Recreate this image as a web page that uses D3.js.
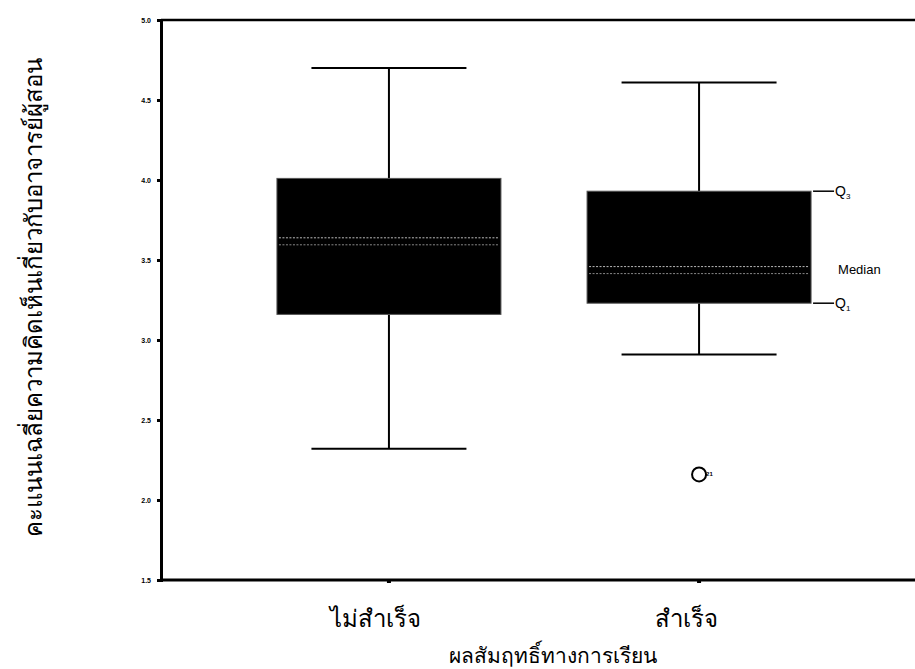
<!DOCTYPE html>
<html>
<head>
<meta charset="utf-8">
<script src="https://cdn.jsdelivr.net/npm/d3@7"></script>
<style>
  body { margin: 0; background: #fff; }
  svg { display: block; }
</style>
</head>
<body>
<div id="chart"></div>
<script>
// data
const groups = ["ไม่สำเร็จ", "สำเร็จ"];
const q1 = [3.16, 3.23];
const medians = [3.62, 3.44];
const q3 = [4.01, 3.93];
const whiskerLow = [2.32, 2.91];
const whiskerHigh = [4.70, 4.61];
const outlierGroup = ["สำเร็จ"];
const outlierValue = [2.16];
const outlierLabel = ["21"];
const yTicks = [1.5, 2.0, 2.5, 3.0, 3.5, 4.0, 4.5, 5.0];

const width = 915, height = 669;
const margin = { top: 20, left: 161, bottom: 89 };
const plotRight = 927;

const svg = d3.select("#chart").append("svg")
  .attr("width", width)
  .attr("height", height);

const x = d3.scalePoint()
  .domain(groups)
  .range([margin.left, plotRight])
  .padding(0.735);

const y = d3.scaleLinear()
  .domain([1.5, 5.0])
  .range([height - margin.bottom, margin.top]);

const boxW = 224, capW = 155;

// frame
svg.append("line")
  .attr("x1", margin.left).attr("x2", plotRight)
  .attr("y1", y(5)).attr("y2", y(5))
  .attr("stroke", "#000").attr("stroke-width", 2.5);

svg.append("line")
  .attr("x1", margin.left).attr("x2", plotRight)
  .attr("y1", y(1.5)).attr("y2", y(1.5))
  .attr("stroke", "#000").attr("stroke-width", 3);

// y axis
const yAxis = svg.append("g")
  .attr("transform", `translate(${margin.left},0)`)
  .call(d3.axisLeft(y).tickValues(yTicks).tickFormat(d3.format(".1f")).tickSize(4));
yAxis.select(".domain").attr("stroke-width", 3);
yAxis.selectAll(".tick line").attr("stroke-width", 3);
yAxis.selectAll(".tick text")
  .attr("x", -10)
  .attr("fill", "#000")
  .style("font-family", "'Liberation Sans', Arial, sans-serif")
  .style("font-size", "7px")
  .style("font-weight", "bold");

// x ticks (little dots on the axis)
svg.selectAll(".xtick")
  .data(groups)
  .join("rect")
  .attr("x", d => x(d) - 2)
  .attr("y", y(1.5))
  .attr("width", 4)
  .attr("height", 3)
  .attr("fill", "#000");

const boxes = groups.map((g, i) => ({
  g, q1: q1[i], med: medians[i], q3: q3[i], lo: whiskerLow[i], hi: whiskerHigh[i]
}));

const bg = svg.selectAll(".box")
  .data(boxes)
  .join("g")
  .attr("class", "box");

// whisker stems
bg.append("line")
  .attr("x1", d => x(d.g)).attr("x2", d => x(d.g))
  .attr("y1", d => y(d.hi)).attr("y2", d => y(d.q3))
  .attr("stroke", "#000").attr("stroke-width", 2);
bg.append("line")
  .attr("x1", d => x(d.g)).attr("x2", d => x(d.g))
  .attr("y1", d => y(d.q1)).attr("y2", d => y(d.lo))
  .attr("stroke", "#000").attr("stroke-width", 2);

// caps
bg.append("line")
  .attr("x1", d => x(d.g) - capW / 2).attr("x2", d => x(d.g) + capW / 2)
  .attr("y1", d => y(d.hi)).attr("y2", d => y(d.hi))
  .attr("stroke", "#000").attr("stroke-width", 2);
bg.append("line")
  .attr("x1", d => x(d.g) - capW / 2).attr("x2", d => x(d.g) + capW / 2)
  .attr("y1", d => y(d.lo)).attr("y2", d => y(d.lo))
  .attr("stroke", "#000").attr("stroke-width", 2);

// boxes
bg.append("rect")
  .attr("x", d => x(d.g) - boxW / 2)
  .attr("y", d => y(d.q3))
  .attr("width", boxW)
  .attr("height", d => y(d.q1) - y(d.q3))
  .attr("fill", "#000")
  .attr("stroke", "#555")
  .attr("stroke-width", 1);

// median (faint dotted streaks on the black box)
[-3, 4].forEach(off => {
  bg.append("line")
    .attr("x1", d => x(d.g) - boxW / 2 + 2).attr("x2", d => x(d.g) + boxW / 2 - 2)
    .attr("y1", d => y(d.med) + off).attr("y2", d => y(d.med) + off)
    .attr("stroke", off < 0 ? "#bbb" : "#888")
    .attr("stroke-width", 1)
    .attr("stroke-dasharray", "2,1.5");
});

// outlier
const outliers = outlierGroup.map((g, i) => ({ g, v: outlierValue[i], label: outlierLabel[i] }));
svg.selectAll(".outlier")
  .data(outliers)
  .join("circle")
  .attr("cx", d => x(d.g))
  .attr("cy", d => y(d.v))
  .attr("r", 7)
  .attr("fill", "none")
  .attr("stroke", "#000")
  .attr("stroke-width", 2);
svg.selectAll(".outlier-label")
  .data(outliers)
  .join("text")
  .attr("x", d => x(d.g) + 7)
  .attr("y", d => y(d.v) + 2)
  .style("font-family", "'Liberation Sans', Arial, sans-serif")
  .style("font-size", "6px")
  .style("font-weight", "bold")
  .text(d => d.label);

// Q3 / Median / Q1 annotation on the second box
const ref = boxes[1];
const annX = x(ref.g) + boxW / 2 + 2;
[["Q", "3", ref.q3, 5], ["Q", "1", ref.q1, 5]].forEach(([t, sub, v, dy]) => {
  svg.append("line")
    .attr("x1", annX).attr("x2", annX + 21)
    .attr("y1", y(v)).attr("y2", y(v))
    .attr("stroke", "#000").attr("stroke-width", 1.5);
  const tx = svg.append("text")
    .attr("x", annX + 22)
    .attr("y", y(v) + dy)
    .style("font-family", "'Liberation Sans', Arial, sans-serif")
    .style("font-size", "14px")
    .text(t);
  tx.append("tspan")
    .attr("dy", 3)
    .style("font-size", "8px")
    .text(sub);
});
svg.append("text")
  .attr("x", annX + 25)
  .attr("y", y(ref.med) + 4)
  .style("font-family", "'Liberation Sans', Arial, sans-serif")
  .style("font-size", "13px")
  .text("Median");

// x category labels
svg.selectAll(".xlab")
  .data(groups)
  .join("text")
  .attr("x", d => x(d) - 13)
  .attr("y", 627)
  .attr("text-anchor", "middle")
  .style("font-size", "24px")
  .text(d => d);

// axis titles
svg.append("text")
  .attr("x", 553)
  .attr("y", 663)
  .attr("text-anchor", "middle")
  .style("font-size", "21px")
  .text("ผลสัมฤทธิ์ทางการเรียน");

svg.append("text")
  .attr("transform", "translate(42,297) rotate(-90)")
  .attr("text-anchor", "middle")
  .style("font-size", "24px")
  .text("คะแนนเฉลี่ยความคิดเห็นเกี่ยวกับอาจารย์ผู้สอน");
</script>
</body>
</html>
